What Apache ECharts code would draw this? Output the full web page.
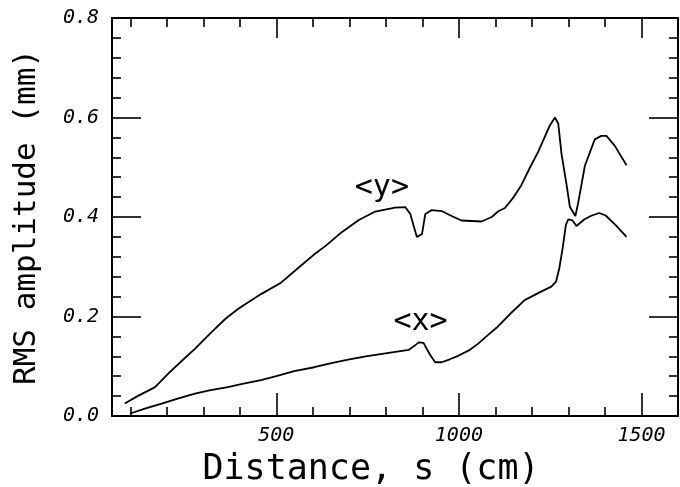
<!DOCTYPE html>
<html>
<head>
<meta charset="utf-8">
<script src="https://cdn.jsdelivr.net/npm/echarts@6/dist/echarts.min.js"></script>
<style>html,body{margin:0;padding:0;background:#fff}#c{width:680px;height:487px}</style>
</head>
<body>
<div id="c"></div>
<script>
// distance s (cm) and RMS amplitude (mm) for <y>
var yS   = [85,120,168,204,240,277,322,360,395,458,513,567,604,635,680,726,771,825,853,867,877,885,899,908,926,953,980,1007,1062,1090,1107,1126,1150,1171,1195,1217,1249,1263,1272,1281,1295,1304,1319,1327,1345,1372,1390,1404,1427,1459];
var yRms = [0.025,0.040,0.058,0.085,0.110,0.135,0.168,0.195,0.215,0.245,0.268,0.302,0.325,0.342,0.370,0.394,0.411,0.419,0.420,0.406,0.380,0.360,0.366,0.406,0.414,0.412,0.402,0.393,0.391,0.400,0.411,0.418,0.440,0.464,0.500,0.531,0.584,0.600,0.588,0.527,0.464,0.420,0.402,0.430,0.503,0.556,0.563,0.563,0.543,0.504];
// distance s (cm) and RMS amplitude (mm) for <x>
var xS   = [100,140,186,230,277,320,367,410,458,500,549,604,654,700,745,790,835,863,880,890,903,912,921,935,953,975,998,1030,1052,1080,1107,1140,1180,1225,1253,1266,1275,1284,1293,1299,1311,1322,1343,1361,1384,1402,1430,1459];
var xRms = [0.005,0.015,0.025,0.035,0.045,0.052,0.058,0.065,0.072,0.080,0.090,0.098,0.107,0.114,0.120,0.125,0.130,0.133,0.142,0.148,0.147,0.135,0.123,0.108,0.108,0.114,0.121,0.133,0.145,0.163,0.180,0.205,0.233,0.250,0.260,0.270,0.297,0.337,0.384,0.395,0.393,0.382,0.395,0.402,0.408,0.403,0.383,0.360];
// axis ticks
var xMajorTicks = [500,1000,1500];
var xMinorTicks = [100,200,300,400,600,700,800,900,1100,1200,1300,1400,1600];
var xMin = 50, xMax = 1600;
var yMin = 0, yMax = 0.8, yStep = 0.2;
// curve labels
var curveLabels = [{text:'<y>', s:789, v:0.458}, {text:'<x>', s:895, v:0.189}];

function pairs(a,b){return a.map(function(v,i){return [v,b[i]];});}

var tickFont = {fontFamily:'DejaVu Sans Mono', fontStyle:'italic', fontSize:20, color:'#000'};
var titleFont = {fontFamily:'DejaVu Sans Mono', color:'#000'};
var lineStyle = {color:'#000', width:2};

function xAxis(pos, ticks, len, labels){
  return {
    type:'value', position:pos, min:xMin, max:xMax,
    axisLine:{show:true, onZero:false, lineStyle:lineStyle},
    axisTick:{show:true, inside:true, length:len, customValues:ticks, lineStyle:{color:'#000', width:1.6}},
    axisLabel:labels ? Object.assign({show:true, margin:10, customValues:xMajorTicks, formatter:function(v){return String(v);}}, tickFont) : {show:false},
    splitLine:{show:false}
  };
}
function yAxis(pos, labels){
  return {
    type:'value', position:pos, min:yMin, max:yMax, interval:yStep,
    axisLine:{show:true, onZero:false, lineStyle:lineStyle},
    axisTick:{show:true, inside:true, length:29, lineStyle:{color:'#000', width:1.6}},
    minorTick:{show:true, splitNumber:5, length:9, lineStyle:{color:'#000', width:1.6}},
    axisLabel:labels ? Object.assign({show:true, margin:13, formatter:function(v){return v.toFixed(1);}}, tickFont) : {show:false},
    splitLine:{show:false}
  };
}

var xs = [
  xAxis('bottom', xMajorTicks, 23, true),
  xAxis('bottom', xMinorTicks, 9, false),
  xAxis('top', xMajorTicks, 20, false),
  xAxis('top', xMinorTicks, 9, false)
];
xs[0].name = 'Distance, s (cm)';
xs[0].nameLocation = 'middle';
xs[0].nameGap = 36;
xs[0].nameTextStyle = Object.assign({fontSize:35, padding:[0,48,0,0]}, titleFont);

var ys = [yAxis('left', true), yAxis('right', false)];
ys[0].name = 'RMS amplitude (mm)';
ys[0].nameLocation = 'middle';
ys[0].nameGap = 70;
ys[0].nameTextStyle = Object.assign({fontSize:31}, titleFont);

function labelPoint(l){
  return {coord:[l.s,l.v], value:l.text, symbol:'rect', symbolSize:1,
    itemStyle:{color:'rgba(0,0,0,0)'},
    label:{show:true, position:'inside', formatter:l.text, fontFamily:'DejaVu Sans Mono', fontSize:30, color:'#000'}};
}

var chart = echarts.init(document.getElementById('c'), null, {renderer:'canvas'});
chart.setOption({
  animation:false,
  backgroundColor:'#fff',
  grid:{left:112, right:2, top:18, bottom:71, containLabel:false, outerBoundsMode:'none'},
  xAxis:xs,
  yAxis:ys,
  series:[
    {type:'line', xAxisIndex:0, yAxisIndex:0, data:pairs(yS,yRms), showSymbol:false, symbol:'none',
     lineStyle:{color:'#000', width:1.8}, markPoint:{silent:true, data:[labelPoint(curveLabels[0])]}},
    {type:'line', xAxisIndex:0, yAxisIndex:0, data:pairs(xS,xRms), showSymbol:false, symbol:'none',
     lineStyle:{color:'#000', width:1.8}, markPoint:{silent:true, data:[labelPoint(curveLabels[1])]}}
  ]
});
</script>
</body>
</html>
